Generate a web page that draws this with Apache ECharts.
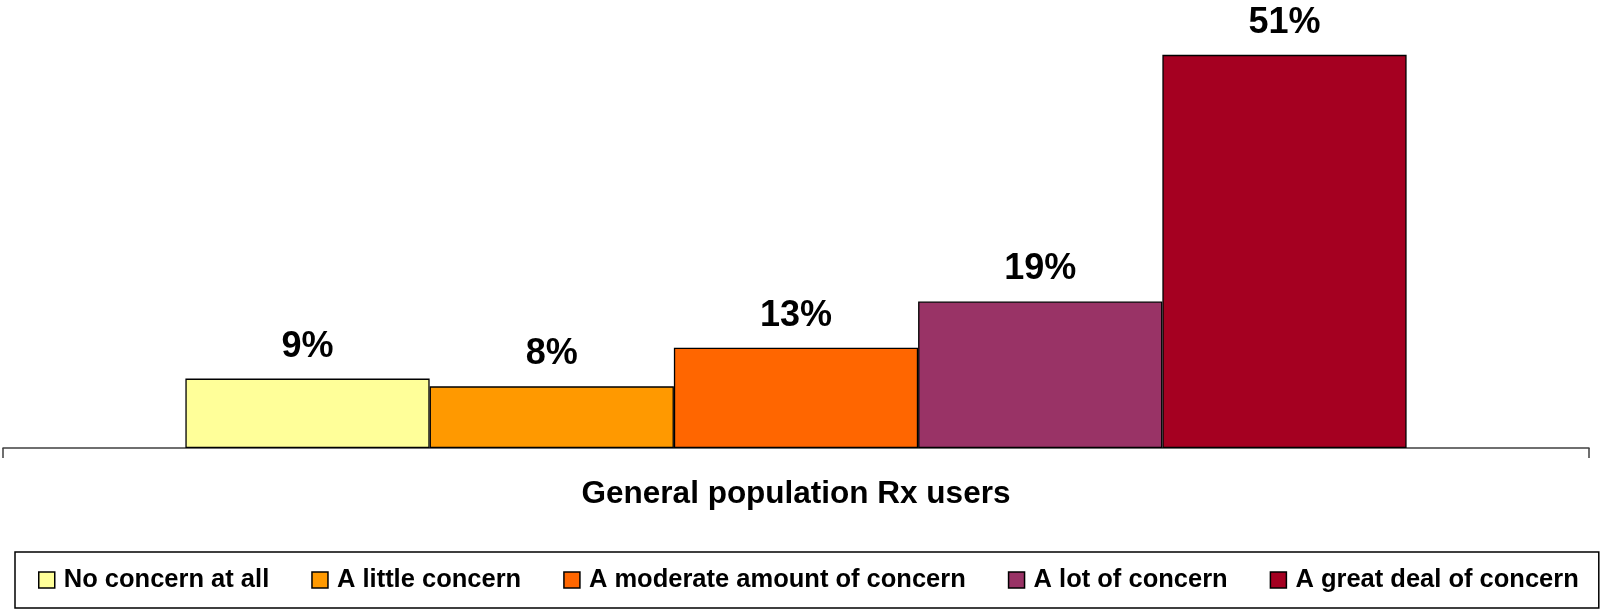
<!DOCTYPE html>
<html>
<head>
<meta charset="utf-8">
<script src="https://cdn.jsdelivr.net/npm/echarts@6/dist/echarts.min.js"></script>
<style>
html,body{margin:0;padding:0;background:#fff;}
#chart{width:1604px;height:609px;}
</style>
</head>
<body>
<div id="chart"></div>
<script>
const categories = ["General population Rx users"];
const seriesNames = ["No concern at all", "A little concern", "A moderate amount of concern", "A lot of concern", "A great deal of concern"];
const noConcern = [9];
const littleConcern = [8];
const moderateConcern = [13];
const lotConcern = [19];
const greatConcern = [51];
const seriesValues = [noConcern, littleConcern, moderateConcern, lotConcern, greatConcern];
const colors = ["#FFFF99", "#FF9900", "#FF6600", "#993366", "#A50021"];

const font = "Arial, 'Liberation Sans', sans-serif";
const chart = echarts.init(document.getElementById('chart'));
chart.setOption({
  animation: false,
  grid: { left: 3, right: 15, top: 24, bottom: 161, containLabel: false },
  legend: {
    data: seriesNames,
    left: 15,
    bottom: 1,
    width: 1555,
    orient: 'horizontal',
    itemWidth: 16,
    itemHeight: 16,
    itemGap: 42,
    padding: [15, 20, 15, 23],
    borderColor: '#000',
    borderWidth: 1.5,
    icon: 'rect',
    textStyle: { fontFamily: font, fontWeight: 'bold', fontSize: 25.5, color: '#000', padding: [0, 0, 0, 4] },
    itemStyle: { borderColor: '#000', borderWidth: 1.5 }
  },
  xAxis: {
    type: 'category',
    data: categories,
    axisLine: { lineStyle: { color: '#404040', width: 1.5 } },
    axisTick: { show: true, length: 10, lineStyle: { color: '#404040', width: 1.5 } },
    axisLabel: { fontFamily: font, fontWeight: 'bold', fontSize: 31.5, color: '#000', margin: 30 }
  },
  yAxis: {
    type: 'value', min: 0, max: 55, show: false,
    splitLine: { show: false }
  },
  series: seriesNames.map((name, i) => ({
    name: name,
    type: 'bar',
    data: seriesValues[i],
    barGap: '0%',
    barCategoryGap: '23%',
    itemStyle: { color: colors[i], borderColor: '#000', borderWidth: 1.3 },
    label: {
      show: true, position: 'top', distance: 14,
      formatter: '{c}%',
      fontFamily: font, fontWeight: 'bold', fontSize: 36, color: '#000'
    }
  }))
});
</script>
</body>
</html>
